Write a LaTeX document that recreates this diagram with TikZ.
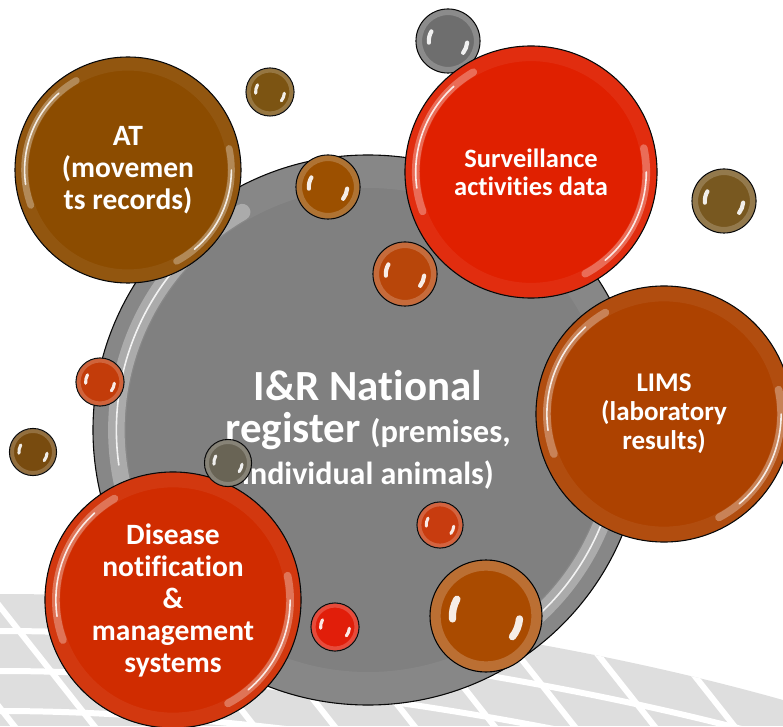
\documentclass[tikz,border=0pt]{standalone}
\usepackage{fontspec}
\setmainfont{Carlito}[Ligatures=NoCommon]
\usepackage{xcolor}
\usepackage{tikz}

% bubble colours
\definecolor{regGray}{HTML}{808080}
\definecolor{atBrown}{HTML}{8C4C00}
\definecolor{survRed}{HTML}{E02000}
\definecolor{limsRust}{HTML}{AD4200}
\definecolor{disRed}{HTML}{D02C00}
\definecolor{tileGray}{HTML}{DEDEDE}
\definecolor{dotGray}{HTML}{6E6E6E}
\definecolor{dotUmber}{HTML}{7C5412}
\definecolor{dotBrown}{HTML}{9C5000}
\definecolor{dotRust}{HTML}{B8460A}
\definecolor{dotOlive}{HTML}{785820}
\definecolor{dotBrick}{HTML}{C33C0A}
\definecolor{dotSepia}{HTML}{784B0F}
\definecolor{dotTaupe}{HTML}{696455}
\definecolor{dotFlame}{HTML}{C83C0F}
\definecolor{dotRed}{HTML}{E11E0A}
\definecolor{dotCopper}{HTML}{AA4B00}

% rim light and two streaks on a large bubble: node, radius
\newcommand\glossbig[2]{%
  \pgfmathsetmacro\rimr{0.94*#2}\pgfmathsetmacro\rimw{0.12*#2}%
  \pgfmathsetmacro\strr{0.915*#2}\pgfmathsetmacro\strw{0.06*#2}%
  \draw[white, opacity=.06, line width=\rimw pt] (#1.center) circle[radius=\rimr pt];
  \draw[white, opacity=.3, line width=\strw pt, line cap=round]
    (#1.center) ++(120:\strr pt) arc[start angle=120, end angle=200, radius=\strr pt];
  \draw[white, opacity=.3, line width=\strw pt, line cap=round]
    (#1.center) ++(-62:\strr pt) arc[start angle=-62, end angle=12, radius=\strr pt];
  \draw[white, opacity=.85, line width=1.6pt, line cap=round]
    (#1.center) ++(132:\strr pt) arc[start angle=132, end angle=188, radius=\strr pt];
  \draw[white, opacity=.85, line width=1.6pt, line cap=round]
    (#1.center) ++(-50:\strr pt) arc[start angle=-50, end angle=0, radius=\strr pt];
}
% rim light and two glints on a small bubble: node, radius
\newcommand\glosssmall[2]{%
  \pgfmathsetmacro\rimr{0.9*#2}\pgfmathsetmacro\rimw{0.18*#2}%
  \pgfmathsetmacro\glr{0.6*#2}\pgfmathsetmacro\glw{0.13*#2}%
  \draw[white, opacity=.2, line width=\rimw pt] (#1.center) circle[radius=\rimr pt];
  \draw[white, opacity=.9, line width=\glw pt, line cap=round]
    (#1.center) ++(150:\glr pt) arc[start angle=150, end angle=185, radius=\glr pt];
  \draw[white, opacity=.9, line width=\glw pt, line cap=round]
    (#1.center) ++(-38:\glr pt) arc[start angle=-38, end angle=-5, radius=\glr pt];
}

\begin{document}
\begin{tikzpicture}[
  x=1pt, y=1pt,
  bigball/.style 2 args={circle, draw=black, line width=1.1pt, fill=#1, inner sep=0pt,
    minimum size={2*#2pt}, text=white, align=center},
  smallball/.style 2 args={circle, draw=black, line width=1.1pt, fill=#1, inner sep=0pt,
    minimum size={2*#2pt}},
  rowgap/.style={white, line width=6pt},
]
\useasboundingbox (0,0) rectangle (783,726);
\clip (0,0) rectangle (783,726);

% tiled backdrop along the bottom
\begin{scope}
  \clip (0,132) .. controls (220,132) and (520,100) .. (783,26) -- (783,0) -- (0,0) -- cycle;
  \fill[tileGray] (0,0) rectangle (783,160);
  \draw[rowgap] (0,95) .. controls (220,95) and (520,58) .. (783,-14);
  \draw[rowgap] (0,55) .. controls (220,55) and (520,16) .. (783,-56);
  \draw[rowgap] (0,15) .. controls (220,15) and (520,-26) .. (783,-98);
  \foreach \xs in {-120,-40,...,800}
    \draw[rowgap] (\xs,170) -- ++(150,-190);
\end{scope}

% central register
\node[bigball={regGray}{275}, font=\bfseries\fontsize{43}{42}\selectfont] (register) at (368,296)
  {I\&R National\\register {\fontsize{32.5}{42}\selectfont(premises,}\\{\fontsize{32}{42}\selectfont individual animals)}};
\glossbig{register}{275}

% satellite systems
\node[smallball={dotGray}{32}] (dotTop) at (448,685) {};
\glosssmall{dotTop}{32}
\node[bigball={survRed}{126}, font=\bfseries\fontsize{26.5}{28}\selectfont] (surv) at (531,554) {Surveillance\\activities data};
\glossbig{surv}{126}
\node[bigball={atBrown}{113}, font=\bfseries\fontsize{29.5}{32}\selectfont] (at) at (128,556) {AT\\(movemen\\ts records)};
\glossbig{at}{113}
\node[bigball={limsRust}{128}, font=\bfseries\fontsize{27}{29}\selectfont] (lims) at (664,312) {LIMS\\(laboratory\\results)};
\glossbig{lims}{128}
\node[bigball={disRed}{128}, font=\bfseries\fontsize{29.5}{32}\selectfont] (disease) at (173,126) {Disease\\notification\\\&\\management\\systems};
\glossbig{disease}{128}

% small bubbles
\node[smallball={dotUmber}{24}] (dotA) at (270,634) {};
\glosssmall{dotA}{24}
\node[smallball={dotBrown}{32}] (dotB) at (328,539) {};
\glosssmall{dotB}{32}
\node[smallball={dotRust}{32}] (dotC) at (405,452) {};
\glosssmall{dotC}{32}
\node[smallball={dotOlive}{32}] (dotD) at (724,525) {};
\glosssmall{dotD}{32}
\node[smallball={dotBrick}{24}] (dotE) at (100,344) {};
\glosssmall{dotE}{24}
\node[smallball={dotSepia}{23.5}] (dotF) at (33,274) {};
\glosssmall{dotF}{23.5}
\node[smallball={dotTaupe}{23.5}] (dotG) at (228,263) {};
\glosssmall{dotG}{23.5}
\node[smallball={dotFlame}{23}] (dotH) at (440,201) {};
\glosssmall{dotH}{23}
\node[smallball={dotRed}{24}] (dotI) at (335,99) {};
\glosssmall{dotI}{24}
\node[smallball={dotCopper}{56}] (dotJ) at (486,110) {};
\glosssmall{dotJ}{56}
\end{tikzpicture}
\end{document}
